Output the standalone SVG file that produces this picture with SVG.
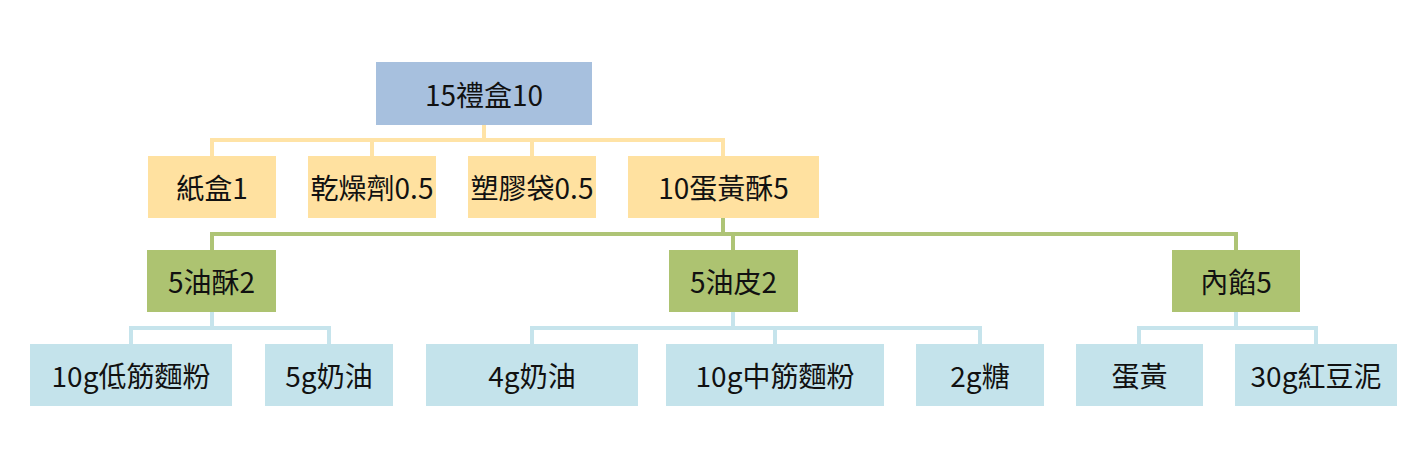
<svg xmlns="http://www.w3.org/2000/svg" width="1420" height="462" viewBox="0 0 1420 462">
<style>
text{font-family:"Noto Sans CJK TC","Noto Sans",sans-serif;font-size:28px;fill:#111;text-anchor:middle;dominant-baseline:central}
.l1{fill:#A7C0DE}
.l2{fill:#FFE1A0}
.l3{fill:#ADC371}
.l4{fill:#C4E3EB}
.cy{stroke:#FFE3A6;stroke-width:4;fill:none}
.cg{stroke:#AEC476;stroke-width:4;fill:none}
.cb{stroke:#C6E4EC;stroke-width:4;fill:none}
</style>
<rect width="1420" height="462" fill="#fff"/>
<g id="connectors">
<path class="cy" d="M484 125V140M212 140H723M212 138V156M372 140V156M532 140V156M723 138V156"/>
<path class="cg" d="M723 218V234M212 234H1236M212 232V250M733 234V250M1236 232V250"/>
<path class="cb" d="M212 312V328M131 328H329M131 326V344M329 326V344"/>
<path class="cb" d="M733 312V328M532 328H980M532 326V344M775 328V344M980 326V344"/>
<path class="cb" d="M1236 312V328M1139 328H1316M1139 326V344M1316 326V344"/>
</g>
<g id="n-root"><rect class="l1" x="376" y="62" width="216" height="63"/><text x="484" y="93.5">15禮盒10</text></g>
<g id="n-box"><rect class="l2" x="148" y="156" width="128" height="62"/><text x="212" y="187">紙盒1</text></g>
<g id="n-desiccant"><rect class="l2" x="308" y="156" width="128" height="62"/><text x="372" y="187">乾燥劑0.5</text></g>
<g id="n-bag"><rect class="l2" x="468" y="156" width="128" height="62"/><text x="532" y="187">塑膠袋0.5</text></g>
<g id="n-yolkpastry"><rect class="l2" x="628" y="156" width="191" height="62"/><text x="723.5" y="187">10蛋黃酥5</text></g>
<g id="n-oilpastry"><rect class="l3" x="147" y="250" width="129" height="62"/><text x="211.5" y="281">5油酥2</text></g>
<g id="n-oildough"><rect class="l3" x="669" y="250" width="129" height="62"/><text x="733.5" y="281">5油皮2</text></g>
<g id="n-filling"><rect class="l3" x="1172" y="250" width="128" height="62"/><text x="1236" y="281">內餡5</text></g>
<g id="n-lowflour"><rect class="l4" x="30" y="344" width="202" height="62"/><text x="131" y="375">10g低筋麵粉</text></g>
<g id="n-butter5"><rect class="l4" x="265" y="344" width="128" height="62"/><text x="329" y="375">5g奶油</text></g>
<g id="n-butter4"><rect class="l4" x="426" y="344" width="212" height="62"/><text x="532" y="375">4g奶油</text></g>
<g id="n-midflour"><rect class="l4" x="666" y="344" width="218" height="62"/><text x="775" y="375">10g中筋麵粉</text></g>
<g id="n-sugar"><rect class="l4" x="916" y="344" width="128" height="62"/><text x="980" y="375">2g糖</text></g>
<g id="n-yolk"><rect class="l4" x="1076" y="344" width="127" height="62"/><text x="1139.5" y="375">蛋黃</text></g>
<g id="n-redbean"><rect class="l4" x="1235" y="344" width="162" height="62"/><text x="1316" y="375">30g紅豆泥</text></g>
</svg>
